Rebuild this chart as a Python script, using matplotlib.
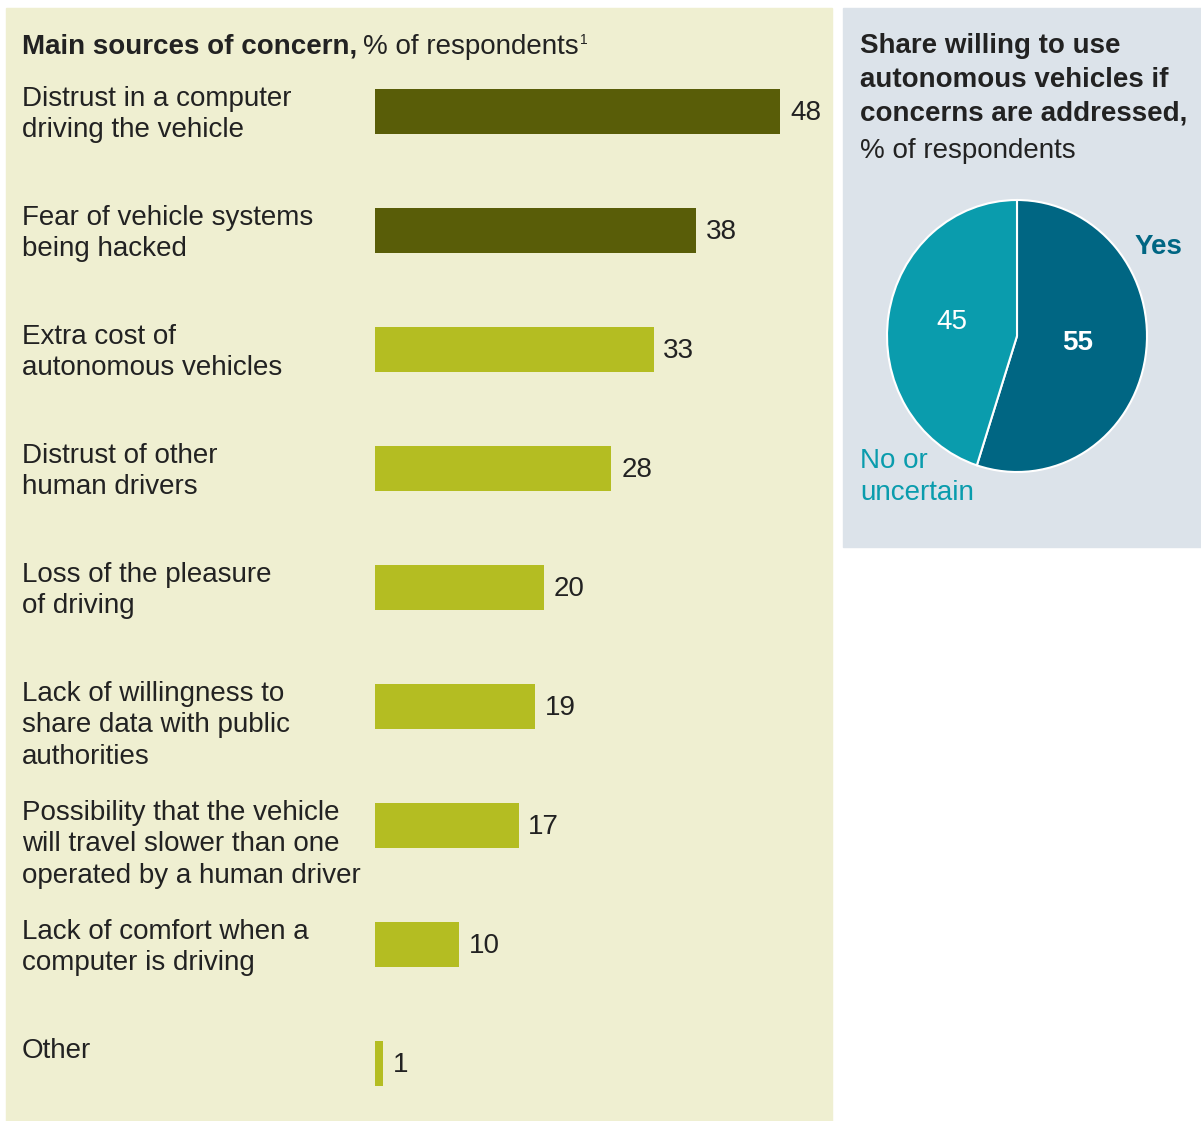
import numpy as np
import matplotlib
matplotlib.use('Agg')
import matplotlib.pyplot as plt
from matplotlib.patches import Rectangle
import matplotlib.transforms as mtransforms

plt.rcParams['font.family'] = ['Liberation Sans', 'DejaVu Sans']

#%% data
categories = [
    'Distrust in a computer\ndriving the vehicle',
    'Fear of vehicle systems\nbeing hacked',
    'Extra cost of\nautonomous vehicles',
    'Distrust of other\nhuman drivers',
    'Loss of the pleasure\nof driving',
    'Lack of willingness to\nshare data with public\nauthorities',
    'Possibility that the vehicle\nwill travel slower than one\noperated by a human driver',
    'Lack of comfort when a\ncomputer is driving',
    'Other',
]
values = [48, 38, 33, 28, 20, 19, 17, 10, 1]
highlight = [True, True, False, False, False, False, False, False, False]

pie_labels = ['Yes', 'No or\nuncertain']
pie_values = [55, 45]

W, H = 1201, 1121
FS = 20
dark_olive = '#595d08'
light_olive = '#b4bd22'
txt = '#222222'
teal_dark = '#006683'
teal_light = '#0a9cad'

fig = plt.figure(figsize=(W / 100, H / 100), dpi=100)
fig.patch.set_facecolor('white')

def px(x0, y0, w, h):
    # pixel box (top-left origin) -> figure fraction
    return [x0 / W, 1 - (y0 + h) / H, w / W, h / H]

# panels (background axes)
bg = fig.add_axes([0, 0, 1, 1], zorder=-10)
bg.set_xlim(0, W)
bg.set_ylim(H, 0)
bg.axis('off')
bg.add_patch(Rectangle((6, 8), 832 - 6, H - 8, color='#efefd1'))
bg.add_patch(Rectangle((843, 8), 1201 - 843, 547 - 8, color='#dce3ea'))

#%% bar chart
ax = fig.add_axes(px(375, 52, 456, 1071))
ax.set_facecolor('none')
y = np.arange(len(values))
cols = [dark_olive if h else light_olive for h in highlight]
ax.barh(y, values, height=0.37, color=cols)
ax.set_xlim(0, 54)
ax.set_ylim(8.5, -0.5)
ax.axis('off')
for yi, v in zip(y, values):
    ax.annotate(str(v), (v, yi), xytext=(7, -1), textcoords='offset points',
                va='center', ha='left', fontsize=FS, color=txt)

tr = mtransforms.blended_transform_factory(fig.transFigure, ax.transData)
for yi, c in zip(y, categories):
    ax.text(22 / W, yi - 0.215, c, transform=tr, va='top', ha='left',
            fontsize=FS, color=txt, linespacing=1.27)

# left title
fig.canvas.draw()
r = fig.canvas.get_renderer()
t1 = fig.text(22 / W, 1 - 47 / H, 'Main sources of concern,', fontsize=FS,
              fontweight='bold', color=txt, va='center', ha='left')
bb = t1.get_window_extent(r)
t2 = fig.text(bb.x1 / W + 6 / W, 1 - 47 / H, '% of respondents', fontsize=FS,
              color=txt, va='center', ha='left')
bb2 = t2.get_window_extent(r)
fig.text(bb2.x1 / W + 1 / W, 1 - 40 / H, '1', fontsize=10, color=txt,
         va='center', ha='left')

#%% pie
pax = fig.add_axes(px(887, 200, 260, 272))
wedges, _ = pax.pie(pie_values, colors=[teal_dark, teal_light], startangle=90,
                    counterclock=False, radius=1.0,
                    wedgeprops=dict(edgecolor='white', linewidth=1.5))
pax.set_aspect('auto')
pax.set_xlim(-1, 1)
pax.set_ylim(-1, 1)
pax.axis('off')
pax.text(0.47, -0.05, str(pie_values[0]), color='white', fontsize=FS,
         fontweight='bold', ha='center', va='center')
pax.text(-0.5, 0.1, str(pie_values[1]), color='white', fontsize=FS,
         ha='center', va='center')

fig.text(1158 / W, 1 - 247 / H, pie_labels[0], color=teal_dark, fontsize=FS,
         fontweight='bold', ha='center', va='center')
fig.text(860 / W, 1 - 477 / H, pie_labels[1], color=teal_light, fontsize=FS,
         ha='left', va='center', linespacing=1.3)

fig.text(860 / W, 1 - 33 / H,
         'Share willing to use\nautonomous vehicles if\nconcerns are addressed,',
         fontsize=FS, fontweight='bold', color=txt, ha='left', va='top',
         linespacing=1.38)
fig.text(860 / W, 1 - 151 / H, '% of respondents', fontsize=FS, color=txt,
         ha='left', va='center')

fig.savefig('out.png', dpi=100, facecolor='white')
